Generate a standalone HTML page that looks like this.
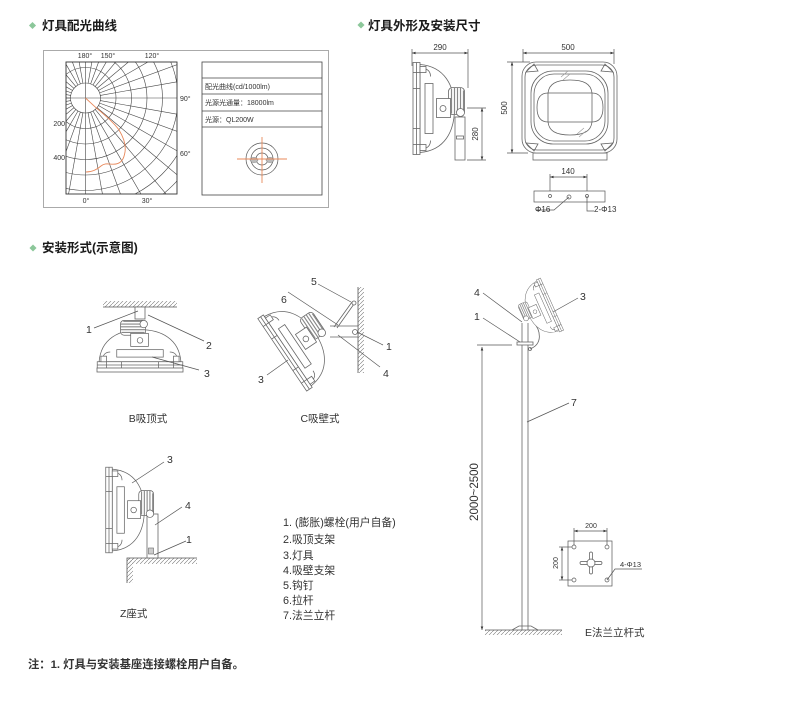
<!DOCTYPE html>
<html><head><meta charset="utf-8"><style>
html,body{margin:0;padding:0;background:#fff;}
svg{display:block;}
text{font-family:"Liberation Sans","Noto Sans CJK SC",sans-serif;fill:#333;}
.t{font-size:12.5px;font-weight:bold;fill:#1a1a1a;}
.d{font-size:8px;fill:#333;}
.n{font-size:10.5px;fill:#333;}
.c{font-size:10.5px;fill:#333;}
</style></head><body>
<svg width="800" height="704" viewBox="0 0 800 704" xmlns="http://www.w3.org/2000/svg">
<defs>
<pattern id="h" patternUnits="userSpaceOnUse" width="4" height="4"><path d="M-1,5 L5,-1" stroke="#777" stroke-width="0.6"/></pattern>
<marker id="a" viewBox="0 0 6 6" refX="6" refY="3" markerWidth="5" markerHeight="5" orient="auto-start-reverse"><path d="M0,0.8 L6,3 L0,5.2Z" fill="#333"/></marker>
<clipPath id="pc"><rect x="66" y="62" width="111" height="132"/></clipPath>
<g id="lamp" fill="none" stroke="#666" stroke-width="0.8">
  <path d="M3.5,-44 C28,-42 38,-23 38,0 C38,23 28,42 3.5,44 Z" fill="#fff"/>
  <path d="M6,-40 C12,-40 14,-36 14,-32 M6,40 C12,40 14,36 14,32"/>
  <rect x="8.5" y="-25" width="8" height="50"/>
  <rect x="-3.5" y="-46" width="7" height="92" fill="#fff"/>
  <line x1="0" y1="-46" x2="0" y2="46"/>
  <line x1="-3.5" y1="-36" x2="3.5" y2="-36"/>
  <line x1="-3.5" y1="36" x2="3.5" y2="36"/>
  <line x1="-3.5" y1="-20" x2="3.5" y2="-20"/>
  <line x1="-3.5" y1="20" x2="3.5" y2="20"/>
  <rect x="3.5" y="-42" width="6" height="6" fill="#fff"/>
  <rect x="3.5" y="36" width="6" height="6" fill="#fff"/>
  <rect x="32" y="-21" width="16" height="27" rx="4" fill="#fff"/>
  <path d="M35,-20 V5 M38,-21 V6 M41,-21 V6 M44,-21 V6 M47,-18 V3" stroke="#888" stroke-width="1.2"/>
  <rect x="20" y="-10" width="14" height="19" fill="#fff"/>
  <circle cx="26.5" cy="0" r="3"/>
  <circle cx="44" cy="4" r="4" fill="#fff"/>
</g>
</defs>

<!-- ============ Section 1 ============ -->
<rect x="30" y="23" width="5" height="5" fill="#8cc79a" transform="rotate(45 32.5 25.5)"/>
<text class="t" x="42" y="30">灯具配光曲线</text>

<rect x="43.5" y="50.5" width="285" height="157" fill="none" stroke="#aaa" stroke-width="1"/>

<g clip-path="url(#pc)" fill="none" stroke="#444" stroke-width="0.6">
  <g transform="translate(85.5,98)">
    <circle r="15"/><circle r="30.5"/><circle r="46"/><circle r="61.5"/><circle r="77"/><circle r="92.5"/><circle r="108"/><circle r="123.5"/><circle r="139"/><circle r="154.5"/>
    <line y1="15" y2="230" transform="rotate(0)"/><line y1="15" y2="230" transform="rotate(10)"/><line y1="15" y2="230" transform="rotate(20)"/><line y1="15" y2="230" transform="rotate(30)"/><line y1="15" y2="230" transform="rotate(40)"/><line y1="15" y2="230" transform="rotate(50)"/><line y1="15" y2="230" transform="rotate(60)"/><line y1="15" y2="230" transform="rotate(70)"/><line y1="15" y2="230" transform="rotate(80)"/><line y1="15" y2="230" transform="rotate(90)"/><line y1="15" y2="230" transform="rotate(100)"/><line y1="15" y2="230" transform="rotate(110)"/><line y1="15" y2="230" transform="rotate(120)"/><line y1="15" y2="230" transform="rotate(130)"/><line y1="15" y2="230" transform="rotate(140)"/><line y1="15" y2="230" transform="rotate(150)"/><line y1="15" y2="230" transform="rotate(160)"/><line y1="15" y2="230" transform="rotate(170)"/><line y1="15" y2="230" transform="rotate(180)"/><line y1="15" y2="230" transform="rotate(190)"/><line y1="15" y2="230" transform="rotate(200)"/><line y1="15" y2="230" transform="rotate(210)"/><line y1="15" y2="230" transform="rotate(220)"/><line y1="15" y2="230" transform="rotate(230)"/><line y1="15" y2="230" transform="rotate(240)"/><line y1="15" y2="230" transform="rotate(250)"/><line y1="15" y2="230" transform="rotate(260)"/><line y1="15" y2="230" transform="rotate(270)"/><line y1="15" y2="230" transform="rotate(280)"/><line y1="15" y2="230" transform="rotate(290)"/><line y1="15" y2="230" transform="rotate(300)"/><line y1="15" y2="230" transform="rotate(310)"/><line y1="15" y2="230" transform="rotate(320)"/><line y1="15" y2="230" transform="rotate(330)"/><line y1="15" y2="230" transform="rotate(340)"/><line y1="15" y2="230" transform="rotate(350)"/>
    <line x1="-15" y1="0" x2="-30" y2="0"/>
    <line x1="-15" y1="0" x2="15" y2="0"/>
    <line x1="0" y1="-15" x2="0" y2="15"/>
  </g>
</g>
<rect x="66" y="62" width="111" height="132" fill="none" stroke="#333" stroke-width="0.9"/>
<path d="M85.5,98 C92,104 96,108 100,111 C108,118 115,124 119,130 C124,138 126,145 125,152 C124,158 122,163 116,164 C110,165 106,162 101,166 C96,170 92,172 86,172" fill="none" stroke="#e8885a" stroke-width="0.9"/>
<g style="font-size:7px">
<text x="85" y="58" text-anchor="middle">180°</text>
<text x="108" y="58" text-anchor="middle">150°</text>
<text x="152" y="58" text-anchor="middle">120°</text>
<text x="180" y="101">90°</text>
<text x="180" y="156">60°</text>
<text x="65" y="126" text-anchor="end">200</text>
<text x="65" y="160" text-anchor="end">400</text>
<text x="86" y="203" text-anchor="middle">0°</text>
<text x="147" y="203" text-anchor="middle">30°</text>
</g>

<rect x="202" y="62" width="120" height="133" fill="none" stroke="#444" stroke-width="0.8"/>
<g stroke="#444" stroke-width="0.7">
<line x1="202" y1="78" x2="322" y2="78"/>
<line x1="202" y1="94" x2="322" y2="94"/>
<line x1="202" y1="111" x2="322" y2="111"/>
<line x1="202" y1="127" x2="322" y2="127"/>
</g>
<g style="font-size:7px">
<text x="205" y="89">配光曲线(cd/1000lm)</text>
<text x="205" y="105">光源光通量：18000lm</text>
<text x="205" y="122">光源：QL200W</text>
</g>
<g fill="none" stroke="#555" stroke-width="0.7">
<circle cx="262" cy="159" r="16"/><circle cx="262" cy="159" r="11"/><circle cx="262" cy="159" r="6"/>
</g>
<ellipse cx="254" cy="160" rx="4" ry="2.5" fill="#bbb" stroke="#777" stroke-width="0.5"/>
<ellipse cx="270" cy="160" rx="4" ry="2.5" fill="#bbb" stroke="#777" stroke-width="0.5"/>
<line x1="237" y1="159" x2="287" y2="159" stroke="#e8885a" stroke-width="0.9"/>
<line x1="262" y1="137" x2="262" y2="183" stroke="#e8885a" stroke-width="0.9"/>

<!-- ============ Section 2 ============ -->
<rect x="358.5" y="22.5" width="5" height="5" fill="#8cc79a" transform="rotate(45 361 25)"/>
<text class="t" x="368" y="30">灯具外形及安装尺寸</text>

<g fill="none" stroke="#555" stroke-width="0.7">
  <line x1="412" y1="53" x2="468" y2="53" marker-start="url(#a)" marker-end="url(#a)"/>
  <line x1="412" y1="49" x2="412" y2="66"/>
  <line x1="468" y1="49" x2="468" y2="88"/>
  <line x1="482" y1="108" x2="482" y2="160" marker-start="url(#a)" marker-end="url(#a)"/>
  <line x1="467" y1="108" x2="486" y2="108"/>
  <line x1="467" y1="160" x2="486" y2="160"/>
</g>
<text class="d" x="440" y="50" text-anchor="middle">290</text>
<text class="d" transform="translate(478,134) rotate(-90)" text-anchor="middle">280</text>

<use href="#lamp" transform="translate(416.5,108.5)"/>
<g fill="#fff" stroke="#666" stroke-width="0.8">
  <rect x="455" y="117" width="10" height="43"/>
  <rect x="456.5" y="136" width="7" height="3"/>
</g>

<g fill="none" stroke="#555" stroke-width="0.7">
  <line x1="523" y1="53" x2="614" y2="53" marker-start="url(#a)" marker-end="url(#a)"/>
  <line x1="523" y1="49" x2="523" y2="62"/>
  <line x1="614" y1="49" x2="614" y2="64"/>
  <line x1="512" y1="62" x2="512" y2="153" marker-start="url(#a)" marker-end="url(#a)"/>
  <line x1="507" y1="62" x2="530" y2="62"/>
  <line x1="507" y1="153" x2="528" y2="153"/>
</g>
<text class="d" x="568" y="50" text-anchor="middle">500</text>
<text class="d" transform="translate(507,108) rotate(-90)" text-anchor="middle">500</text>

<g fill="none" stroke="#666" stroke-width="0.8">
  <rect x="533" y="153" width="74" height="7" fill="#fff"/>
  <rect x="522" y="62" width="95" height="91" rx="14" fill="#fff"/>
  <rect x="525" y="65" width="89" height="85" rx="12"/>
  <rect x="531" y="71" width="77" height="73" rx="22"/>
  <rect x="534" y="74" width="71" height="67" rx="20"/>
  <rect x="548" y="93" width="44" height="29"/>
  <path d="M548,93 C539,93 537,100 537,107.5 C537,115 539,122 548,122"/>
  <path d="M592,93 C601,93 603,100 603,107.5 C603,115 601,122 592,122"/>
  <path d="M548,93 C549,84 556,80 570,80 C584,80 591,84 592,93"/>
  <path d="M548,122 C549,131 556,135 570,135 C584,135 591,131 592,122"/>
  <path d="M526,72 L534,64 L538,71 Z M613,72 L605,64 L601,71 Z M526,143 L534,151 L538,144 Z M613,143 L605,151 L601,144 Z"/>
  <path d="M561,77 L568,71 M563,80 L570,74 M577,134 L584,128 M579,137 L586,131" stroke="#999" stroke-width="0.6"/>
</g>

<g fill="none" stroke="#555" stroke-width="0.7">
  <line x1="550" y1="177" x2="587" y2="177" marker-start="url(#a)" marker-end="url(#a)"/>
  <line x1="550" y1="174" x2="550" y2="196"/>
  <line x1="587" y1="174" x2="587" y2="196"/>
  <rect x="534" y="191" width="71" height="11" fill="#fff"/>
  <circle cx="550" cy="196" r="1.5"/>
  <circle cx="569" cy="197" r="2"/>
  <circle cx="587" cy="196" r="1.5"/>
  <path d="M569,197 L554,210 L536,210"/>
  <path d="M587,196 L587,211 L594,211"/>
</g>
<text class="d" x="568" y="174" text-anchor="middle">140</text>
<text class="d" x="535" y="212">Φ16</text>
<text class="d" x="594" y="212">2-Φ13</text>

<!-- ============ Section 3 ============ -->
<rect x="30.5" y="245.5" width="5" height="5" fill="#8cc79a" transform="rotate(45 33 248)"/>
<text class="t" x="42" y="252">安装形式(示意图)</text>

<!-- B -->
<rect x="103" y="301" width="74" height="6" fill="url(#h)"/>
<line x1="103" y1="307" x2="177" y2="307" stroke="#555" stroke-width="0.8"/>
<rect x="135" y="307" width="10" height="12" fill="#fff" stroke="#666" stroke-width="0.8"/>
<use href="#lamp" transform="translate(140,365) rotate(-90) scale(0.93)"/>
<rect x="97" y="368" width="86" height="4" fill="#fff" stroke="#666" stroke-width="0.8"/>
<g fill="none" stroke="#555" stroke-width="0.7">
  <line x1="94" y1="328" x2="138" y2="311"/>
  <line x1="204" y1="341" x2="148" y2="315"/>
  <line x1="199" y1="370" x2="152" y2="357"/>
</g>
<text class="n" x="86" y="333">1</text>
<text class="n" x="206" y="349">2</text>
<text class="n" x="204" y="377">3</text>
<text class="c" x="148" y="422" text-anchor="middle">B吸顶式</text>

<!-- C -->
<rect x="358" y="287" width="6" height="86" fill="url(#h)"/>
<line x1="358" y1="287" x2="358" y2="373" stroke="#555" stroke-width="0.8"/>
<g fill="#fff" stroke="#666" stroke-width="0.8">
  <path d="M330,326 L358,326 L358,337 L330,337"/>
  <path d="M334,327 L352,302 M337,328 L354,304" fill="none"/>
  <circle cx="354" cy="303" r="2"/>
  <circle cx="355" cy="332" r="2.5"/>
</g>
<use href="#lamp" transform="translate(285,353) rotate(-34) scale(0.95)"/>
<g fill="none" stroke="#555" stroke-width="0.7">
  <line x1="318" y1="284" x2="351" y2="302"/>
  <line x1="288" y1="292" x2="338" y2="325"/>
  <line x1="357" y1="332" x2="383" y2="345"/>
  <line x1="338" y1="335" x2="380" y2="367"/>
  <line x1="267" y1="375" x2="288" y2="360"/>
</g>
<text class="n" x="311" y="285">5</text>
<text class="n" x="281" y="303">6</text>
<text class="n" x="386" y="350">1</text>
<text class="n" x="383" y="377">4</text>
<text class="n" x="258" y="383">3</text>
<text class="c" x="320" y="422" text-anchor="middle">C吸壁式</text>

<!-- Z -->
<rect x="127" y="558" width="70" height="6" fill="url(#h)"/>
<rect x="127" y="558" width="6" height="25" fill="url(#h)"/>
<path d="M127,583 L127,558 L197,558" fill="none" stroke="#555" stroke-width="0.8"/>
<rect x="147" y="514" width="11" height="44" fill="#fff" stroke="#666" stroke-width="0.8"/>
<rect x="148.5" y="548" width="5" height="6" fill="#ccc" stroke="#666" stroke-width="0.6"/>
<use href="#lamp" transform="translate(109,510) scale(0.93)"/>
<g fill="none" stroke="#555" stroke-width="0.7">
  <line x1="164" y1="462" x2="132" y2="483"/>
  <line x1="182" y1="507" x2="155" y2="525"/>
  <line x1="186" y1="541" x2="154" y2="555"/>
</g>
<text class="n" x="167" y="463">3</text>
<text class="n" x="185" y="509">4</text>
<text class="n" x="186" y="543">1</text>
<text class="c" x="120" y="617">Z座式</text>

<!-- legend -->
<g style="font-size:10.8px;fill:#333">
<text x="283" y="526">1. (膨胀)螺栓(用户自备)</text>
<text x="283" y="543">2.吸顶支架</text>
<text x="283" y="559">3.灯具</text>
<text x="283" y="574">4.吸壁支架</text>
<text x="283" y="589">5.钩钉</text>
<text x="283" y="604">6.拉杆</text>
<text x="283" y="619">7.法兰立杆</text>
</g>

<!-- E -->
<rect x="485" y="630" width="77" height="5" fill="url(#h)"/>
<line x1="485" y1="630" x2="562" y2="630" stroke="#555" stroke-width="0.8"/>
<g fill="none" stroke="#666" stroke-width="0.8">
  <line x1="522" y1="323" x2="522" y2="630"/>
  <line x1="528" y1="323" x2="528" y2="630"/>
  <path d="M512,630 L519,626 L531,626 L538,630"/>
  <rect x="517" y="342" width="16" height="3" fill="#fff"/>
  <path d="M533,322 C541,330 543,344 530,349"/>
  <circle cx="530" cy="349" r="1.5"/>
</g>
<use href="#lamp" transform="translate(550,305) rotate(-24) scale(-0.62,0.62)"/>
<g fill="none" stroke="#555" stroke-width="0.7">
  <line x1="482" y1="347" x2="482" y2="630" marker-start="url(#a)" marker-end="url(#a)"/>
  <line x1="477" y1="345" x2="512" y2="345"/>
  <line x1="483" y1="293" x2="522" y2="322"/>
  <line x1="483" y1="318" x2="520" y2="342"/>
  <line x1="578" y1="298" x2="553" y2="312"/>
  <line x1="569" y1="403" x2="527" y2="422"/>
</g>
<text class="n" x="474" y="296">4</text>
<text class="n" x="474" y="320">1</text>
<text class="n" x="580" y="300">3</text>
<text class="n" x="571" y="406">7</text>
<text transform="translate(478,492) rotate(-90)" text-anchor="middle" style="font-size:11.5px">2000~2500</text>

<!-- flange -->
<g fill="none" stroke="#555" stroke-width="0.7">
  <rect x="568" y="541" width="44" height="45" fill="#fff"/>
  <line x1="574" y1="531" x2="607" y2="531" marker-start="url(#a)" marker-end="url(#a)"/>
  <line x1="574" y1="528" x2="574" y2="545"/>
  <line x1="607" y1="528" x2="607" y2="545"/>
  <line x1="562" y1="547" x2="562" y2="580" marker-start="url(#a)" marker-end="url(#a)"/>
  <line x1="559" y1="547" x2="572" y2="547"/>
  <line x1="559" y1="580" x2="572" y2="580"/>
  <circle cx="574" cy="547" r="2"/><circle cx="607" cy="547" r="2"/>
  <circle cx="574" cy="580" r="2"/><circle cx="607" cy="580" r="2"/>
  <rect x="580" y="561.5" width="22" height="3" rx="1.5"/>
  <rect x="589.5" y="552" width="3" height="22" rx="1.5"/>
  <circle cx="591" cy="563" r="4" fill="#fff"/>
  <path d="M607,580 L615,569 L642,569"/>
</g>
<text x="591" y="528" text-anchor="middle" style="font-size:7px">200</text>
<text transform="translate(558,563) rotate(-90)" text-anchor="middle" style="font-size:7px">200</text>
<text x="620" y="567" style="font-size:7.5px">4-Φ13</text>
<text class="c" x="585" y="636">E法兰立杆式</text>

<!-- footnote -->
<text x="28" y="668" style="font-size:11.3px;font-weight:bold;fill:#333">注：1. 灯具与安装基座连接螺栓用户自备。</text>
</svg>
</body></html>
